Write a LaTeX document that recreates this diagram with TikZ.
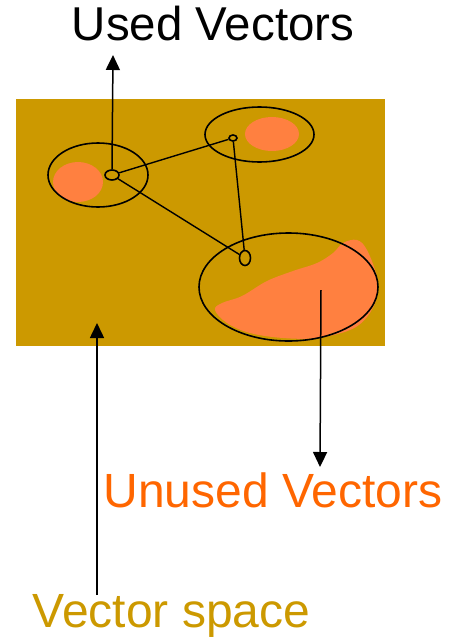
\documentclass[tikz,border=0pt]{standalone}
\usepackage{fontspec}
\setmainfont{Liberation Sans}
\usetikzlibrary{shapes.geometric,arrows.meta}
\definecolor{gold}{HTML}{CC9900}
\definecolor{blobc}{HTML}{FF8040}
\definecolor{orangetxt}{HTML}{FF6600}
\begin{document}
\begin{tikzpicture}[x=1pt,y=-1pt,
  ring/.style={draw=black,line width=1.6pt,ellipse,inner sep=0pt},
  link/.style={draw=black,line width=1.4pt},
  pointer/.style={draw=black,line width=1.5pt,-{Triangle[length=15pt,width=14pt]}},
  lbl/.style={inner sep=0pt,anchor=base}]
\useasboundingbox (0,0) rectangle (448,638);
% vector space
\fill[gold] (16,99) rectangle (385,346);
% clusters of vectors
\fill[blobc] (78,182) ellipse [x radius=25pt,y radius=20pt];
\fill[blobc] (272,134) ellipse [x radius=27pt,y radius=17pt];
\fill[blobc] plot[smooth cycle,tension=0.6] coordinates {(343,243) (357,240) (367,250) (377,277) (377,297) (367,317) (350,330) (317,338) (283,338) (250,333) (227,323) (215,310) (222,303) (242,296) (267,281) (293,271) (317,263) (333,253)};
% rings
\node[ring,minimum width=100pt,minimum height=64pt] (c1) at (98,175) {};
\node[ring,minimum width=109pt,minimum height=55pt] (c2) at (259.5,134.5) {};
\node[ring,minimum width=179pt,minimum height=108pt] (c3) at (288.5,287) {};
% used vectors
\node[ring,minimum width=14pt,minimum height=10pt] (s1) at (112,175) {};
\node[ring,minimum width=8pt,minimum height=6pt] (s2) at (233,138) {};
\node[ring,minimum width=11pt,minimum height=15pt] (s3) at (245,258) {};
\draw[link] (s1) -- (s2);
\draw[link] (s1) -- (s3);
\draw[link] (s2) -- (s3);
% labels
\node[lbl,font=\fontsize{47.5}{52}\selectfont] (used) at (213,40) {Used Vectors};
\node[lbl,font=\fontsize{48}{52}\selectfont,text=orangetxt] (unused) at (273,507) {Unused Vectors};
\node[lbl,font=\fontsize{48}{52}\selectfont,text=gold] (space) at (171.5,627) {Vector space};
\coordinate (usedTip) at (113,55);
\coordinate (unusedStart) at (321,290);
\coordinate (unusedTip) at (320,467);
\coordinate (spaceStart) at (97,595);
\coordinate (spaceTip) at (97,323);
\draw[pointer] (s1.north) -- (usedTip);
\draw[pointer] (unusedStart) -- (unusedTip);
\draw[pointer] (spaceStart) -- (spaceTip);
\end{tikzpicture}
\end{document}
